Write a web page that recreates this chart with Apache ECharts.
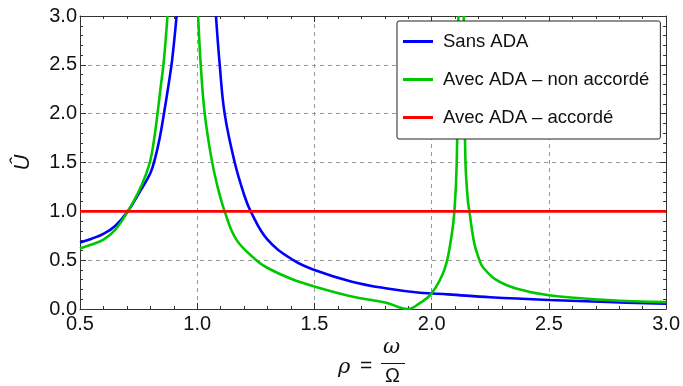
<!DOCTYPE html>
<html>
<head>
<meta charset="utf-8">
<script src="https://cdn.jsdelivr.net/npm/echarts@6/dist/echarts.min.js"></script>
<style>
  html, body { margin: 0; padding: 0; background: #fff; }
  #chart { width: 683px; height: 386px; }
</style>
</head>
<body>
<div id="chart"></div>
<script>
// values (null = break at the resonance)
const rhoSans = [0.5, 0.55, 0.6, 0.65, 0.704, 0.75, 0.8, 0.821, 0.84, 0.858, 0.878, 0.893, 0.912,
  1.0,
  1.08, 1.096, 1.117, 1.16, 1.2, 1.228, 1.3, 1.41, 1.5, 1.66, 1.81, 1.95, 2.07, 2.25, 2.5, 2.75, 3.0]
const uSans = [0.68, 0.72, 0.77, 0.85, 1.0, 1.18, 1.39, 1.55, 1.75, 2.0, 2.3, 2.55, 3.0,
  null,
  3.0, 2.5, 2.0, 1.5, 1.17, 1.0, 0.71, 0.5, 0.4, 0.28, 0.21, 0.167, 0.15, 0.12, 0.092, 0.072, 0.053]

const rhoNonAccorde = [0.5, 0.55, 0.6, 0.65, 0.704, 0.75, 0.78, 0.8, 0.815, 0.828, 0.843, 0.858, 0.873,
  0.94,
  1.004, 1.015, 1.032, 1.06, 1.085, 1.117, 1.167, 1.252, 1.3, 1.4, 1.5, 1.664, 1.806, 1.898,
  1.948, 2.0, 2.054, 2.083, 2.097, 2.107, 2.114,
  2.125,
  2.137, 2.144, 2.154, 2.161, 2.182, 2.204, 2.218, 2.274, 2.36, 2.5, 2.75, 3.0]
const uNonAccorde = [0.62, 0.66, 0.71, 0.81, 1.0, 1.2, 1.37, 1.52, 1.72, 1.95, 2.25, 2.55, 3.0,
  null,
  3.0, 2.5, 2.0, 1.55, 1.27, 1.0, 0.71, 0.5, 0.42, 0.31, 0.23, 0.126, 0.065, 0.0,
  0.058, 0.16, 0.4, 0.72, 1.0, 1.5, 3.0,
  null,
  3.0, 1.525, 1.12, 1.0, 0.67, 0.5, 0.43, 0.3, 0.21, 0.14, 0.092, 0.07]

const rhoAccorde = [0.5, 3.0]
const uAccorde = [1.0, 1.0]

const xTicks = ['0.5', '1.0', '1.5', '2.0', '2.5', '3.0']
const yTicks = ['0.0', '0.5', '1.0', '1.5', '2.0', '2.5', '3.0']

const seriesNames = ['Sans ADA', 'Avec ADA \u2013 non accordé', 'Avec ADA \u2013 accordé']
const seriesColors = ['#0000ff', '#00c800', '#ff0000']

const FONT = '"Liberation Sans", Arial, Helvetica, sans-serif'

const pairs = (xs, ys) => xs.map((x, i) => [x, ys[i]])

const chart = echarts.init(document.getElementById('chart'), null, { renderer: 'canvas' })

const tickStyle = { lineStyle: { color: '#333' } }

chart.setOption({
  animation: false,
  textStyle: { fontFamily: FONT },
  grid: { left: 80, right: 16, top: 16, bottom: 77, containLabel: false },
  legend: {
    data: seriesNames.map((n) => ({ name: n, icon: 'rect' })),
    orient: 'vertical',
    left: 397,
    top: 21,
    padding: [11, 11, 12, 6],
    itemGap: 19,
    itemWidth: 30,
    itemHeight: 3,
    backgroundColor: '#fff',
    borderColor: '#222',
    borderWidth: 1,
    borderRadius: 2,
    textStyle: { fontSize: 18.5, lineHeight: 18, color: '#111', fontFamily: FONT, padding: [0, 0, 0, 5] },
  },
  xAxis: [
    {
      type: 'value', min: 0.5, max: 3.0, interval: 0.5, position: 'bottom',
      axisLine: { show: true, onZero: false, lineStyle: { color: '#333' } },
      axisTick: { show: true, inside: true, length: 6, ...tickStyle },
      minorTick: { show: true, splitNumber: 5, length: 3, ...tickStyle },
      axisLabel: {
        color: '#111', fontSize: 20, margin: 5, fontFamily: FONT,
        formatter: (v) => xTicks[Math.round((v - 0.5) / 0.5)] ?? '',
      },
      splitLine: { show: true, lineStyle: { color: '#999', type: [4, 4], width: 1 } },
    },
    {
      type: 'value', min: 0.5, max: 3.0, interval: 0.5, position: 'top',
      axisLine: { show: true, onZero: false, lineStyle: { color: '#333' } },
      axisTick: { show: true, inside: true, length: 6, ...tickStyle },
      minorTick: { show: true, splitNumber: 5, length: 3, ...tickStyle },
      axisLabel: { show: false },
      splitLine: { show: false },
    },
  ],
  yAxis: [
    {
      type: 'value', min: 0, max: 3, interval: 0.5, position: 'left',
      axisLine: { show: true, onZero: false, lineStyle: { color: '#333' } },
      axisTick: { show: true, inside: true, length: 6, ...tickStyle },
      minorTick: { show: true, splitNumber: 5, length: 3, ...tickStyle },
      axisLabel: {
        color: '#111', fontSize: 20, margin: 3, fontFamily: FONT,
        formatter: (v) => yTicks[Math.round(v / 0.5)] ?? '',
      },
      splitLine: { show: true, lineStyle: { color: '#999', type: [4, 4], width: 1 } },
      name: 'Û',
      nameLocation: 'middle',
      nameRotate: 90,
      nameGap: 46,
      nameTextStyle: { fontSize: 22, fontStyle: 'italic', color: '#111', fontFamily: FONT },
    },
    {
      type: 'value', min: 0, max: 3, interval: 0.5, position: 'right',
      axisLine: { show: true, onZero: false, lineStyle: { color: '#333' } },
      axisTick: { show: true, inside: true, length: 6, ...tickStyle },
      minorTick: { show: true, splitNumber: 5, length: 3, ...tickStyle },
      axisLabel: { show: false },
      splitLine: { show: false },
    },
  ],
  graphic: [
    { type: 'text', left: 338, top: 357, style: { text: 'ρ', fontSize: 21, fontStyle: 'italic', fill: '#111', fontFamily: '"DejaVu Serif", serif' } },
    { type: 'text', left: 360, top: 356, style: { text: '=', fontSize: 21, fill: '#111', fontFamily: FONT } },
    { type: 'text', left: 383, top: 337, style: { text: 'ω', fontSize: 21, fontStyle: 'italic', fill: '#111', fontFamily: '"DejaVu Serif", serif' } },
    { type: 'rect', shape: { x: 381, y: 363, width: 24, height: 1 }, style: { fill: '#111' } },
    { type: 'text', left: 385, top: 366, style: { text: 'Ω', fontSize: 20, fill: '#111', fontFamily: FONT } },
  ],
  series: [
    {
      name: seriesNames[0], type: 'line', data: pairs(rhoSans, uSans),
      symbol: 'none', smooth: 0.4, connectNulls: false, clip: true,
      lineStyle: { color: seriesColors[0], width: 2.6 }, itemStyle: { color: seriesColors[0] },
    },
    {
      name: seriesNames[1], type: 'line', data: pairs(rhoNonAccorde, uNonAccorde),
      symbol: 'none', smooth: 0.4, connectNulls: false, clip: true,
      lineStyle: { color: seriesColors[1], width: 2.6 }, itemStyle: { color: seriesColors[1] },
    },
    {
      name: seriesNames[2], type: 'line', data: pairs(rhoAccorde, uAccorde),
      symbol: 'none', clip: true,
      lineStyle: { color: seriesColors[2], width: 2.6 }, itemStyle: { color: seriesColors[2] },
    },
  ],
})
</script>
</body>
</html>
